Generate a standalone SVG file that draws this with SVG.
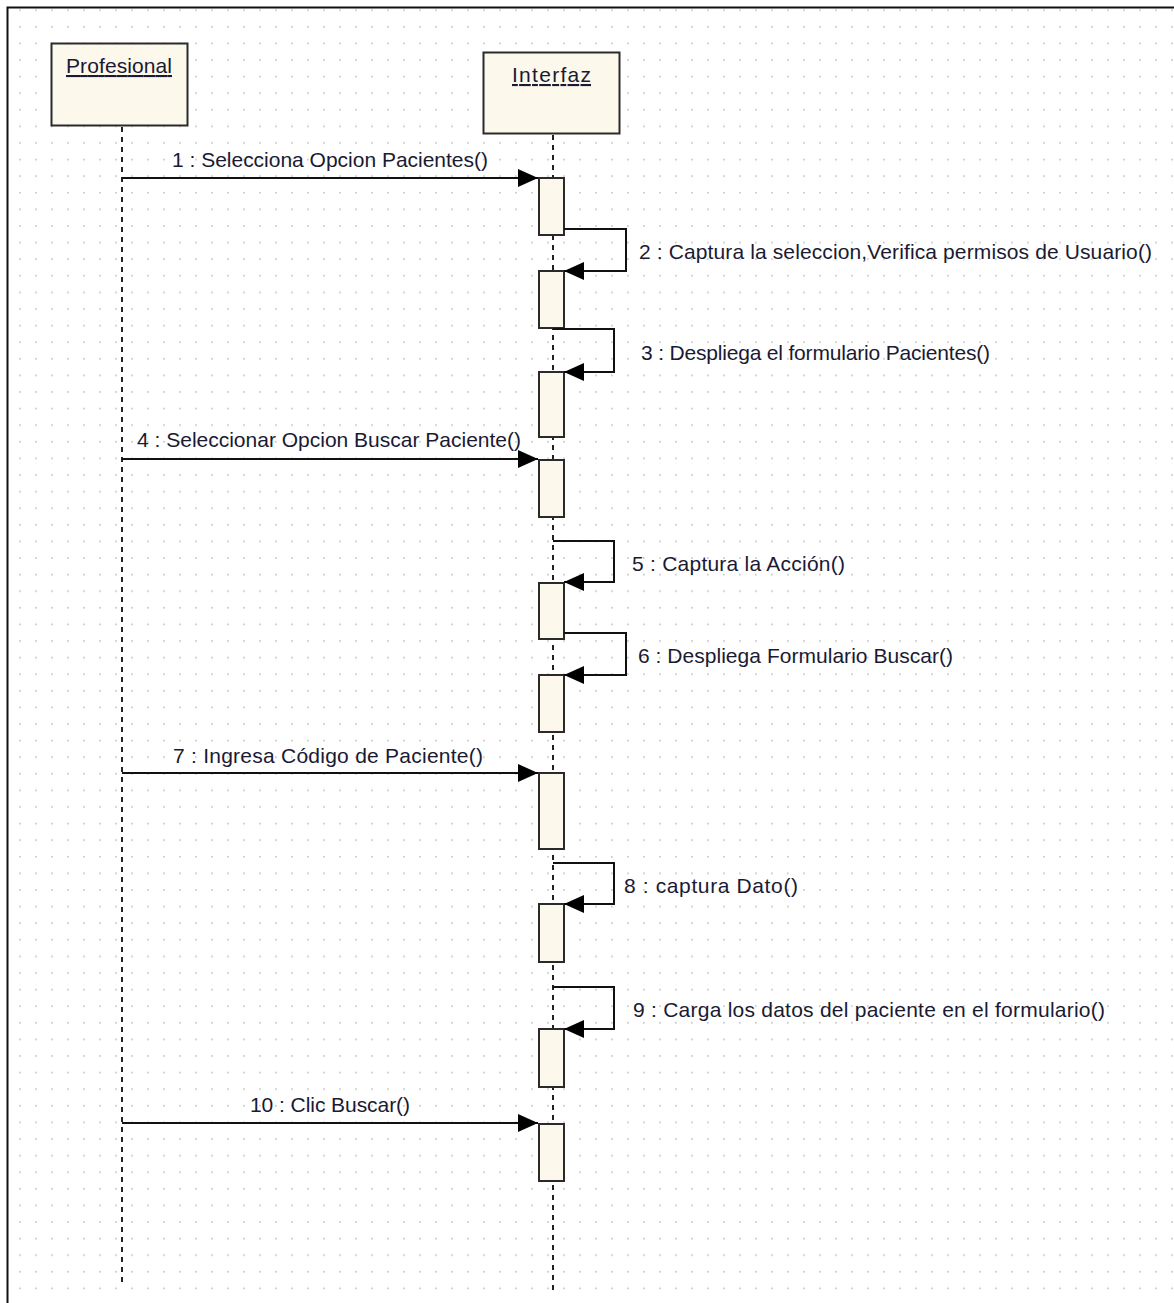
<svg xmlns="http://www.w3.org/2000/svg" width="1174" height="1303" viewBox="0 0 1174 1303">
<style>
.lbl{font-family:"Liberation Sans",Arial,sans-serif;font-size:21px;fill:#1a1a33;}
.ttl{font-family:"Liberation Sans",Arial,sans-serif;font-size:21px;fill:#1a1a33;text-decoration:underline;}
.obj{fill:#fdf8ec;stroke:#2a2a2a;stroke-width:2;}
.act{fill:#fdf8ec;stroke:#2a2a2a;stroke-width:2;}
.life{stroke:#222;stroke-width:2;stroke-dasharray:5 5;fill:none;}
.msg{stroke:#111;stroke-width:2;fill:none;marker-end:url(#arr);}
</style>
<defs>
<pattern id="grid" x="3" y="9.3" width="16" height="16.6" patternUnits="userSpaceOnUse">
<rect x="0" y="0" width="1.7" height="1.7" fill="#c8c8c8"/>
</pattern>
<marker id="arr" viewBox="0 0 20 18" refX="20" refY="9" markerWidth="20" markerHeight="18" markerUnits="userSpaceOnUse" orient="auto">
<path d="M0,0 L20,9 L0,18 z" fill="#000"/>
</marker>
</defs>
<rect width="1174" height="1303" fill="#fff"/>
<rect x="8" y="8" width="1166" height="1295" fill="url(#grid)"/>
<path d="M7.5,1303 V7.5 H1174" stroke="#111" stroke-width="2" fill="none"/>

<g id="profesional">
<line class="life" x1="122" y1="127" x2="122" y2="1283"/>
<rect class="obj" x="51.5" y="43.5" width="136" height="82"/>
<text class="ttl" x="66" y="73" textLength="106" lengthAdjust="spacing">Profesional</text>
</g>

<g id="interfaz">
<line class="life" x1="553" y1="135" x2="553" y2="1292"/>
<rect class="obj" x="483.5" y="52.5" width="136" height="81"/>
<text class="ttl" x="512" y="82" textLength="79" lengthAdjust="spacing">Interfaz</text>
<rect class="act" x="539" y="178" width="25" height="57"/>
<rect class="act" x="539" y="271" width="25" height="57"/>
<rect class="act" x="539" y="372" width="25" height="65"/>
<rect class="act" x="539" y="460" width="25" height="57"/>
<rect class="act" x="539" y="583" width="25" height="56"/>
<rect class="act" x="539" y="675" width="25" height="57"/>
<rect class="act" x="539" y="773" width="25" height="76"/>
<rect class="act" x="539" y="904" width="25" height="58"/>
<rect class="act" x="539" y="1029" width="25" height="58"/>
<rect class="act" x="539" y="1124" width="25" height="57"/>
</g>

<g id="connectors">
<path class="msg" d="M122,178 H538"/>
<path class="msg" d="M564,229 H626 V271 H564"/>
<path class="msg" d="M553,329 H614 V372 H564"/>
<path class="msg" d="M122,459 H538"/>
<path class="msg" d="M553,541 H614 V582 H564"/>
<path class="msg" d="M564,633 H626 V675 H564"/>
<path class="msg" d="M122,773 H538"/>
<path class="msg" d="M553,863 H614 V904 H564"/>
<path class="msg" d="M553,987 H614 V1029 H564"/>
<path class="msg" d="M122,1123 H538"/>
</g>

<g id="labels">
<text class="lbl" x="172" y="167" textLength="316" lengthAdjust="spacing">1 : Selecciona Opcion Pacientes()</text>
<text class="lbl" x="639" y="259" textLength="513" lengthAdjust="spacing">2 : Captura la seleccion,Verifica permisos de Usuario()</text>
<text class="lbl" x="641" y="360" textLength="349" lengthAdjust="spacing">3 : Despliega el formulario Pacientes()</text>
<text class="lbl" x="137" y="447" textLength="384" lengthAdjust="spacing">4 : Seleccionar Opcion Buscar Paciente()</text>
<text class="lbl" x="632" y="571" textLength="213" lengthAdjust="spacing">5 : Captura la Acción()</text>
<text class="lbl" x="638" y="663" textLength="315" lengthAdjust="spacing">6 : Despliega Formulario Buscar()</text>
<text class="lbl" x="173" y="763" textLength="310" lengthAdjust="spacing">7 : Ingresa Código de Paciente()</text>
<text class="lbl" x="624" y="893" textLength="174" lengthAdjust="spacing">8 : captura Dato()</text>
<text class="lbl" x="633" y="1017" textLength="472" lengthAdjust="spacing">9 : Carga los datos del paciente en el formulario()</text>
<text class="lbl" x="250" y="1112" textLength="160" lengthAdjust="spacing">10 : Clic Buscar()</text>
</g>
</svg>
